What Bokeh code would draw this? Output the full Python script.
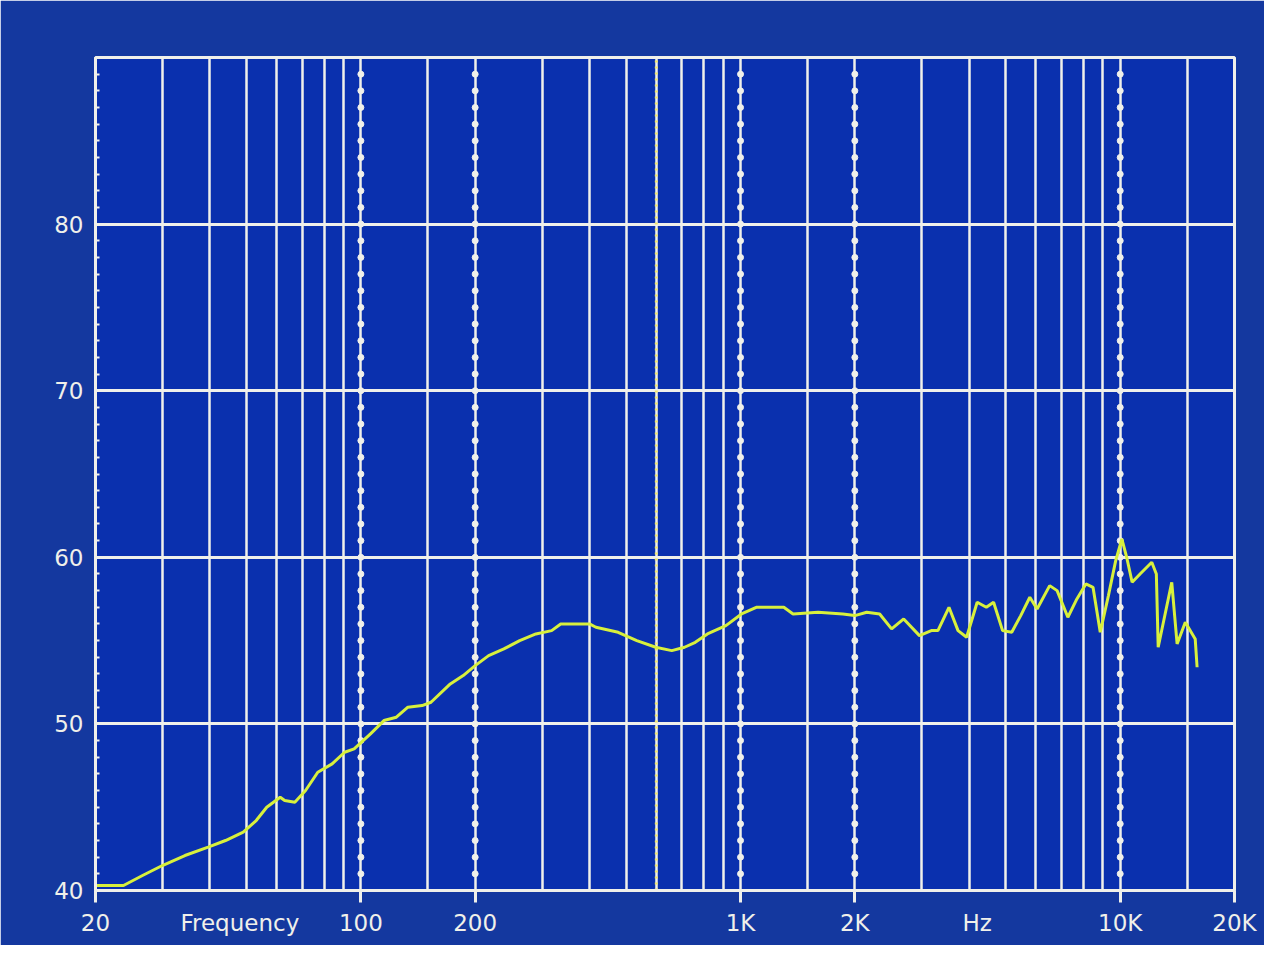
from bokeh.plotting import figure
from bokeh.models import FixedTicker, LogAxis
from bokeh.embed import file_html
from bokeh.resources import INLINE

# ---- data ----
freq_hz = [20, 23.7, 26.6, 30, 34.4, 39.6, 44, 49, 53, 56.5, 61.3, 63, 67, 71.5, 77, 84,
           90.6, 96, 106, 115, 124, 133, 145, 153, 172, 186, 200, 217, 238, 262, 289,
           318, 336, 400, 416, 476, 533, 598, 659, 712, 760, 818, 915, 1006, 1100, 1300,
           1375, 1600, 1860, 2000, 2150, 2325, 2500, 2690, 2960, 3180, 3310, 3540, 3740,
           3940, 4200, 4440, 4640, 4900, 5180, 5470, 5780, 6040, 6520, 6820, 7280, 7690,
           8120, 8480, 8860, 9310, 9730, 10100, 10400, 10750, 11280, 12110, 12450, 12590,
           13670, 14120, 14840, 15760, 15940]
level_db = [40.3, 40.3, 40.9, 41.5, 42.1, 42.6, 43.0, 43.5, 44.2, 45.0, 45.6, 45.4, 45.3,
            46.0, 47.1, 47.6, 48.3, 48.5, 49.4, 50.2, 50.4, 51.0, 51.1, 51.3, 52.4, 52.9,
            53.5, 54.1, 54.5, 55.0, 55.4, 55.6, 56.0, 56.0, 55.8, 55.5, 55.0, 54.6, 54.4,
            54.6, 54.9, 55.4, 55.9, 56.6, 57.0, 57.0, 56.6, 56.7, 56.6, 56.5, 56.7, 56.6,
            55.7, 56.3, 55.3, 55.6, 55.6, 57.0, 55.6, 55.2, 57.3, 57.0, 57.3, 55.6, 55.5,
            56.5, 57.6, 56.9, 58.3, 58.0, 56.4, 57.5, 58.4, 58.2, 55.5, 57.7, 59.8, 61.1,
            60.0, 58.5, 59.0, 59.7, 59.0, 54.6, 58.5, 54.8, 56.1, 55.1, 53.4]

x_tick_values = [20, 100, 200, 1000, 2000, 10000, 20000]
x_label_values = [20, 48, 100, 200, 1000, 2000, 4200, 10000, 20000]
x_label_texts = ["20", "Frequency", "100", "200", "1K", "2K", "Hz", "10K", "20K"]
x_grid_solid = [30, 40, 50, 60, 70, 80, 90, 150, 300, 400, 500, 600, 700, 800, 900,
                1500, 3000, 4000, 5000, 6000, 7000, 8000, 9000, 15000]
x_grid_dotted = [100, 200, 1000, 2000, 10000]
y_tick_values = [40, 50, 60, 70, 80, 90]
y_tick_labels = ["40", "50", "60", "70", "80", ""]
cursor_freq = [600]

# ---- styling ----
BLUE = "#0a30ae"
BORDER = "#14389f"
WHITE = "#f0f0ea"
CURVE = "#d8f03c"
FONT = "DejaVu Sans"
FONT_SIZE = "23px"

y_min, y_max = y_tick_values[0], y_tick_values[-1]

p = figure(width=1264, height=945, x_axis_type="log",
           x_range=(x_tick_values[0], x_tick_values[-1]), y_range=(y_min, y_max),
           output_backend="svg", toolbar_location=None,
           min_border_left=95, min_border_right=30, min_border_top=57, min_border_bottom=55)

p.background_fill_color = BLUE
p.border_fill_color = BORDER
p.outline_line_color = WHITE
p.outline_line_width = 3

# grids
p.xgrid.ticker = FixedTicker(ticks=x_grid_solid + x_grid_dotted)
p.xgrid.grid_line_color = WHITE
p.xgrid.grid_line_width = 2.5
p.ygrid.ticker = FixedTicker(ticks=y_tick_values)
p.ygrid.grid_line_color = WHITE
p.ygrid.grid_line_width = 3

# x axis 1: line and tick marks only (labels blank)
ax = p.xaxis[0]
ax.ticker = FixedTicker(ticks=x_tick_values)
ax.major_label_overrides = {v: " " for v in x_tick_values}
ax.axis_line_color = WHITE
ax.axis_line_width = 3
ax.major_tick_line_color = WHITE
ax.major_tick_line_width = 3
ax.major_tick_in = 0
ax.major_tick_out = 12
ax.minor_tick_line_color = None
ax.major_label_text_font_size = "2px"
ax.major_label_standoff = 0

# x axis 2: the label row (numbers and words)
lab_axis = LogAxis(ticker=FixedTicker(ticks=x_label_values),
                   major_label_overrides=dict(zip(x_label_values, x_label_texts)),
                   axis_line_color=None, major_tick_line_color=None,
                   minor_tick_line_color=None, major_tick_in=0, major_tick_out=0,
                   major_label_standoff=2, major_label_text_color=WHITE,
                   major_label_text_font=FONT, major_label_text_font_size=FONT_SIZE)
p.add_layout(lab_axis, "below")

# y axis
p.yaxis.ticker = FixedTicker(ticks=y_tick_values, minor_ticks=list(range(y_min, y_max + 1)))
p.yaxis.major_label_overrides = dict(zip(y_tick_values, y_tick_labels))
p.yaxis.axis_line_color = WHITE
p.yaxis.axis_line_width = 3
p.yaxis.major_tick_line_color = None
p.yaxis.minor_tick_line_color = WHITE
p.yaxis.minor_tick_line_width = 2
p.yaxis.minor_tick_in = 4
p.yaxis.minor_tick_out = 0
p.yaxis.major_label_text_color = WHITE
p.yaxis.major_label_text_font = FONT
p.yaxis.major_label_text_font_size = FONT_SIZE
p.yaxis.major_label_standoff = 6

# dotted markers on the emphasised grid lines
dot_x, dot_y = [], []
for f in x_grid_dotted:
    for d in range(y_min + 1, y_max):
        dot_x.append(f)
        dot_y.append(d)
p.scatter(dot_x, dot_y, size=6, marker="circle", fill_color=WHITE, line_color=WHITE)

# cursor line
p.segment(x0=cursor_freq, y0=[y_min] * len(cursor_freq), x1=cursor_freq,
          y1=[y_max] * len(cursor_freq), line_color="#f0e66e", line_width=3,
          line_dash="2 4")

# response curve
p.line(freq_hz, level_db, line_color=CURVE, line_width=3)

open("out.html", "w").write(file_html(p, INLINE))
